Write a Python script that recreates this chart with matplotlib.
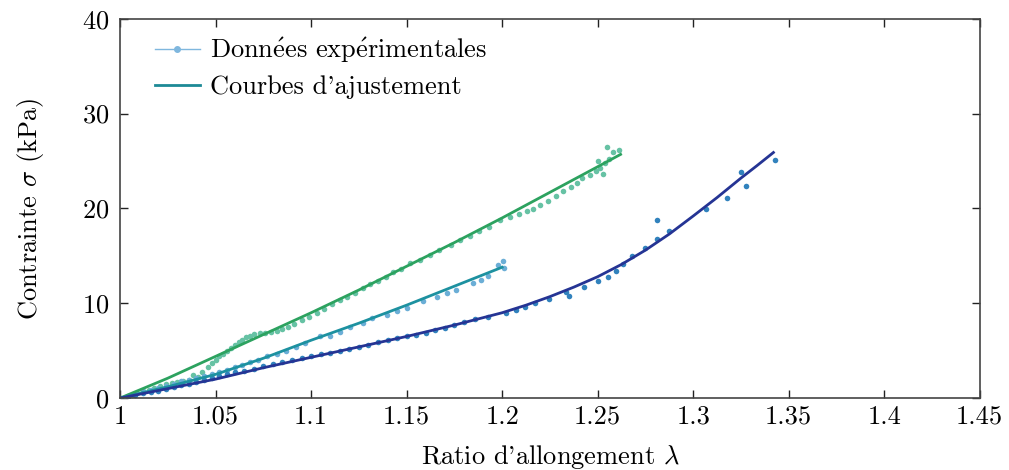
import matplotlib
matplotlib.use('Agg')
from matplotlib import pyplot as plt
from matplotlib.lines import Line2D

plt.rcParams['font.family'] = ['cmr10', 'DejaVu Serif']
plt.rcParams['mathtext.fontset'] = 'cm'
plt.rcParams['axes.formatter.use_mathtext'] = True
plt.rcParams['axes.unicode_minus'] = False

# experimental data, series 1 (green)
lam_green = [1.0, 1.003, 1.006, 1.009, 1.012, 1.015, 1.018, 1.021, 1.024, 1.027, 1.03, 1.033,
             1.036, 1.038, 1.041, 1.043, 1.046, 1.048, 1.05, 1.052, 1.054, 1.056, 1.058, 1.06,
             1.062, 1.064, 1.066, 1.068, 1.07, 1.073, 1.076, 1.079, 1.082, 1.085, 1.088, 1.091,
             1.095, 1.099, 1.103, 1.107, 1.111, 1.115, 1.119, 1.123, 1.127, 1.131, 1.135, 1.139,
             1.143, 1.147, 1.152, 1.157, 1.162, 1.167, 1.173, 1.178, 1.183, 1.188, 1.193, 1.199,
             1.204, 1.209, 1.213, 1.216, 1.22, 1.224, 1.228, 1.232, 1.236, 1.239, 1.242, 1.246,
             1.249, 1.25, 1.251, 1.253, 1.254, 1.255, 1.256, 1.258, 1.261]
sig_green = [0.0, 0.1, 0.3, 0.5, 0.7, 0.9, 1.1, 1.3, 1.5, 1.6, 1.7, 1.8,
             1.9, 2.4, 2.2, 2.8, 3.3, 3.7, 4.0, 4.4, 4.7, 5.0, 5.3, 5.6,
             5.9, 6.1, 6.4, 6.6, 6.8, 6.9, 6.9, 7.0, 7.1, 7.3, 7.5, 7.8,
             8.2, 8.6, 9.0, 9.4, 9.9, 10.3, 10.7, 11.1, 11.6, 12.0, 12.4, 12.8,
             13.3, 13.6, 14.2, 14.6, 15.1, 15.6, 16.1, 16.7, 17.1, 17.6, 18.0, 18.8,
             19.1, 19.4, 19.7, 19.9, 20.4, 20.8, 21.3, 21.8, 22.3, 22.7, 23.2, 23.5,
             23.9, 25.0, 24.3, 23.6, 24.8, 26.5, 25.2, 25.9, 26.2]

# experimental data, series 2 (light blue)
lam_light = [1.0, 1.004, 1.008, 1.012, 1.016, 1.02, 1.024, 1.028, 1.032, 1.036, 1.04, 1.044,
             1.048, 1.052, 1.056, 1.06, 1.064, 1.068, 1.072, 1.077, 1.082, 1.087, 1.092, 1.097,
             1.1047, 1.11, 1.115, 1.1204, 1.127, 1.132, 1.1396, 1.145, 1.15, 1.1586, 1.1657,
             1.171, 1.176, 1.1847, 1.189, 1.1927, 1.1978, 1.2004, 1.201]
sig_light = [0.0, 0.2, 0.4, 0.7, 0.9, 1.1, 1.3, 1.5, 1.8, 1.9, 2.1, 2.3,
             2.5, 2.8, 3.0, 3.3, 3.5, 3.8, 4.0, 4.4, 4.7, 5.0, 5.4, 5.8,
             6.5, 6.6, 7.0, 7.5, 7.9, 8.4, 8.8, 9.2, 9.5, 10.2, 10.7,
             11.1, 11.4, 12.1, 12.5, 12.9, 14.0, 14.5, 13.7]

# experimental data, series 3 (blue)
lam_blue = [1.0, 1.004, 1.008, 1.012, 1.016, 1.02, 1.024, 1.028, 1.032, 1.036, 1.04, 1.044,
            1.048, 1.052, 1.056, 1.06, 1.065, 1.07, 1.075, 1.08, 1.085, 1.09, 1.095, 1.1,
            1.105, 1.11, 1.115, 1.12, 1.125, 1.13, 1.135, 1.14, 1.145, 1.15, 1.155, 1.16,
            1.165, 1.17, 1.175, 1.18, 1.186, 1.1927, 1.202, 1.207, 1.212, 1.217, 1.2245,
            1.2334, 1.2349, 1.243, 1.2503, 1.2555, 1.2595, 1.2634, 1.268, 1.275, 1.281,
            1.281, 1.2874, 1.3066, 1.3175, 1.3248, 1.3274, 1.343]
sig_blue = [0.0, 0.1, 0.3, 0.5, 0.6, 0.8, 1.0, 1.2, 1.4, 1.5, 1.7, 1.9,
            2.1, 2.3, 2.5, 2.7, 2.9, 3.1, 3.4, 3.6, 3.8, 4.0, 4.2, 4.4,
            4.6, 4.8, 5.0, 5.2, 5.4, 5.6, 5.9, 6.1, 6.3, 6.5, 6.7, 6.9,
            7.2, 7.4, 7.7, 8.0, 8.3, 8.6, 9.0, 9.3, 9.6, 10.0, 10.4,
            11.2, 10.8, 11.75, 12.3, 12.8, 13.4, 14.1, 15.0, 15.8, 16.75,
            18.8, 17.65, 19.9, 21.1, 23.8, 22.4, 25.1]

# fitted curves
fit_lam_green = [1.0, 1.025, 1.05, 1.075, 1.1, 1.125, 1.15, 1.175, 1.2, 1.225, 1.25, 1.262]
fit_sig_green = [0.0, 2.1, 4.4, 6.7, 9.0, 11.4, 13.9, 16.4, 19.0, 21.7, 24.4, 25.7]
fit_lam_light = [1.0, 1.025, 1.05, 1.075, 1.1, 1.125, 1.15, 1.175, 1.2]
fit_sig_light = [0.0, 1.2, 2.5, 4.2, 6.1, 7.9, 9.8, 11.8, 13.8]
fit_lam_blue = [1.0, 1.025, 1.05, 1.075, 1.1, 1.125, 1.15, 1.175, 1.2, 1.2125, 1.225, 1.2375,
                1.25, 1.2625, 1.275, 1.2875, 1.3, 1.3125, 1.325, 1.3333, 1.342]
fit_sig_blue = [0.0, 1.0, 2.0, 3.2, 4.3, 5.4, 6.5, 7.7, 9.0, 9.8, 10.7, 11.7,
                12.8, 14.1, 15.6, 17.3, 19.2, 21.15, 23.2, 24.5, 25.9]

xticks = [1.0, 1.05, 1.1, 1.15, 1.2, 1.25, 1.3, 1.35, 1.4, 1.45]
xticklabels = ['1', '1.05', '1.1', '1.15', '1.2', '1.25', '1.3', '1.35', '1.4', '1.45']
yticks = [0, 10, 20, 30, 40]

fig = plt.figure(figsize=(10.09, 4.70), dpi=100)
ax = fig.add_axes([0.119, 0.153, 0.852, 0.807])

ax.plot(lam_green, sig_green, 'o', color='#66c2a4', markersize=4, markeredgewidth=0)
ax.plot(lam_light, sig_light, 'o', color='#6baed6', markersize=4, markeredgewidth=0)
ax.plot(lam_blue, sig_blue, 'o', color='#3182bd', markersize=4, markeredgewidth=0)

ax.plot(fit_lam_green, fit_sig_green, '-', color='#2ca25f', linewidth=2)
ax.plot(fit_lam_light, fit_sig_light, '-', color='#1d91a0', linewidth=2)
ax.plot(fit_lam_blue, fit_sig_blue, '-', color='#253494', linewidth=2)

ax.set_xlim(1.0, 1.45)
ax.set_ylim(0, 40)
ax.set_xticks(xticks)
ax.set_xticklabels(xticklabels)
ax.set_yticks(yticks)
ax.tick_params(direction='in', length=6, width=1, top=True, right=True,
               labelsize=19, color='#222222')
ax.tick_params(axis='x', pad=5)
ax.tick_params(axis='y', pad=8)
for s in ax.spines.values():
    s.set_color('#444444')
    s.set_linewidth(1.2)

ax.set_xlabel(r"Ratio d'allongement $\lambda$", fontsize=19, labelpad=10)
ax.set_ylabel(r"Contrainte $\sigma$ (kPa)", fontsize=19, labelpad=26)

handles = [Line2D([], [], color='#7fb7de', linewidth=1, marker='o', markersize=4),
           Line2D([], [], color='#1d8a96', linewidth=2)]
labels = [r"Donn$\mathrm{\acute{e}}$es exp$\mathrm{\acute{e}}$rimentales",
          r"Courbes d'ajustement"]
ax.legend(handles, labels, loc='upper left', frameon=False, fontsize=19,
          handlelength=1.7, handletextpad=0.38, labelspacing=0.38,
          bbox_to_anchor=(0.013, 1.018))

fig.savefig('out.png', dpi=100)
